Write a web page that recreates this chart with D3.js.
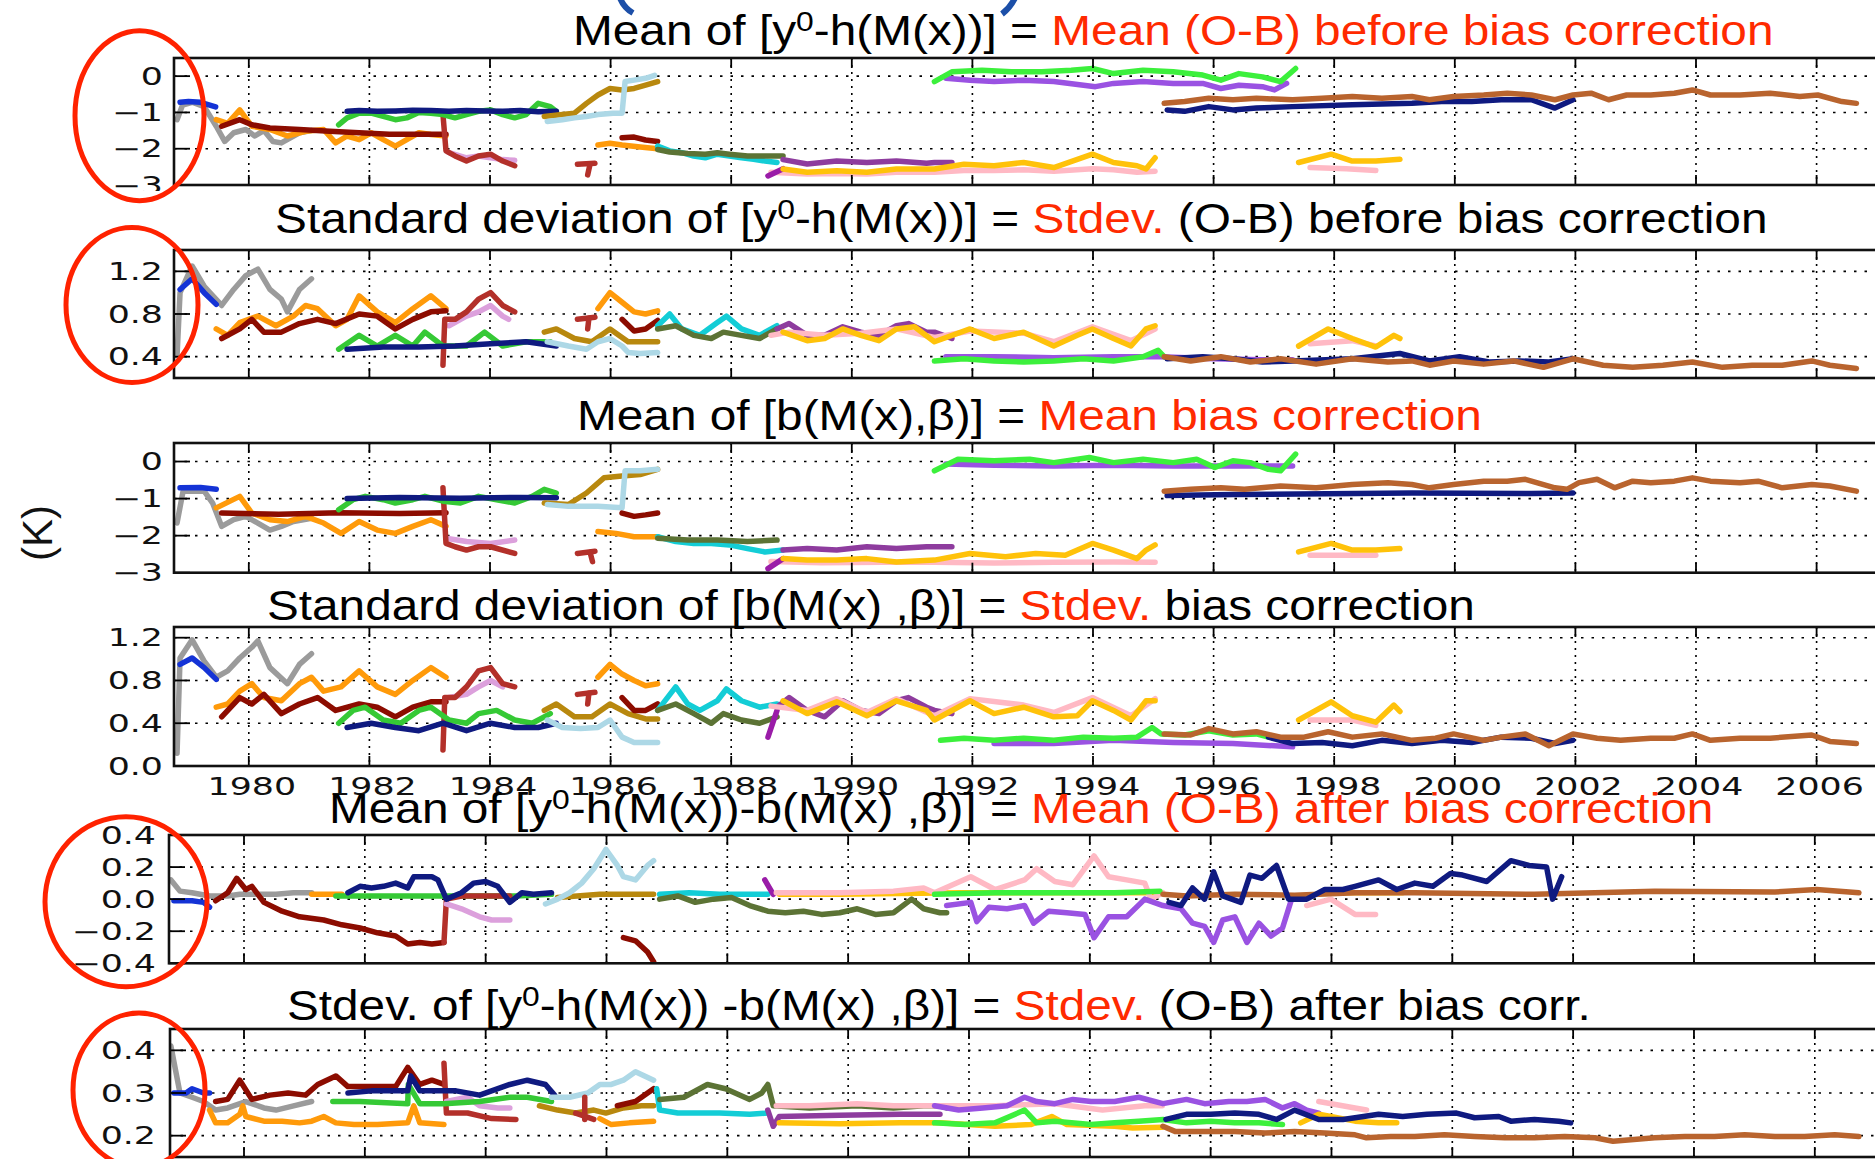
<!DOCTYPE html>
<html>
<head>
<meta charset="utf-8">
<script src="https://cdn.jsdelivr.net/npm/d3@7"></script>
<style>
  body { margin: 0; background: #fff; }
  svg { display: block; }
</style>
</head>
<body>
<div id="chart"></div>
<script>
// ---- data: each panel is a list of [colour, [[year, value], ...]] segments ----

const xTickYears = [1980, 1982, 1984, 1986, 1988, 1990, 1992, 1994, 1996, 1998, 2000, 2002, 2004, 2006];

const meanTicks = [0, -1, -2, -3];
const meanTickLabels = ["0", "\u22121", "\u22122", "\u22123"];
const sdBeforeTicks = [0.4, 0.8, 1.2];
const sdBeforeTickLabels = ["0.4", "0.8", "1.2"];
const sdBcTicks = [0.0, 0.4, 0.8, 1.2];
const sdBcTickLabels = ["0.0", "0.4", "0.8", "1.2"];
const meanAfterTicks = [-0.4, -0.2, 0.0, 0.2, 0.4];
const meanAfterTickLabels = ["\u22120.4", "\u22120.2", "0.0", "0.2", "0.4"];
const sdAfterTicks = [0.2, 0.3, 0.4];
const sdAfterTickLabels = ["0.2", "0.3", "0.4"];

const meanBefore = [
  ["gray", [[1978.81,-1.2],[1978.9,-0.8],[1979.06,-0.72],[1979.26,-0.84],[1979.46,-1.38],[1979.6,-1.8],[1979.75,-1.56],[1979.95,-1.47],[1980.1,-1.65],[1980.25,-1.5],[1980.4,-1.8],[1980.54,-1.84],[1980.69,-1.7],[1980.84,-1.56],[1981.04,-1.5]]],
  ["blue", [[1978.86,-0.72],[1979.0,-0.7],[1979.2,-0.72],[1979.45,-0.85]]],
  ["orange", [[1979.46,-1.2],[1979.65,-1.3],[1979.85,-0.93],[1980.05,-1.38],[1980.35,-1.47],[1980.64,-1.65],[1980.94,-1.52],[1981.24,-1.47],[1981.44,-1.84],[1981.63,-1.65],[1981.83,-1.75],[1982.03,-1.56],[1982.23,-1.75],[1982.43,-1.93],[1982.62,-1.75],[1982.82,-1.56],[1983.02,-1.61],[1983.27,-1.65]]],
  ["darkred", [[1979.55,-1.38],[1979.85,-1.2],[1980.05,-1.34],[1980.35,-1.43],[1980.84,-1.47],[1981.34,-1.52],[1981.83,-1.56],[1982.33,-1.6],[1982.82,-1.6],[1983.27,-1.6]]],
  ["plum", [[1983.32,-2.11],[1983.61,-2.25],[1983.81,-2.2],[1984.01,-2.25],[1984.21,-2.3],[1984.41,-2.32]]],
  ["brick", [[1983.22,-1.06],[1983.27,-2.06],[1983.42,-2.2],[1983.61,-2.34],[1983.81,-2.2],[1984.01,-2.15],[1984.21,-2.34],[1984.41,-2.47]]],
  ["brick", [[1985.45,-2.43],[1985.74,-2.4]]],
  ["brick", [[1985.66,-2.42],[1985.62,-2.72]]],
  ["green", [[1981.49,-1.34],[1981.63,-1.15],[1981.83,-1.02],[1982.03,-1.02],[1982.23,-1.11],[1982.43,-1.2],[1982.62,-1.15],[1982.82,-1.0],[1983.02,-1.02],[1983.22,-1.06],[1983.42,-1.15],[1983.61,-1.06],[1983.81,-0.97],[1984.01,-0.93],[1984.21,-1.06],[1984.41,-1.15],[1984.6,-1.06],[1984.8,-0.75],[1985.0,-0.84],[1985.1,-0.97]]],
  ["navy", [[1981.63,-0.97],[1981.83,-0.95],[1982.13,-0.97],[1982.43,-0.96],[1982.72,-0.94],[1983.02,-0.95],[1983.32,-0.97],[1983.61,-0.95],[1983.91,-0.96],[1984.21,-0.97],[1984.5,-0.95],[1984.8,-0.98],[1985.1,-0.97]]],
  ["goldenrod", [[1984.9,-1.11],[1985.2,-1.06],[1985.4,-1.02],[1985.6,-0.75],[1985.79,-0.52],[1985.99,-0.34],[1986.19,-0.38],[1986.39,-0.34],[1986.58,-0.25],[1986.78,-0.15]]],
  ["lightblue", [[1984.95,-1.25],[1985.2,-1.2],[1985.4,-1.15],[1985.6,-1.11],[1985.79,-1.06],[1986.04,-1.02],[1986.19,-1.02],[1986.24,-0.15],[1986.39,-0.11],[1986.58,-0.06],[1986.73,0.02]]],
  ["orange", [[1985.79,-1.9],[1985.99,-1.85],[1986.19,-1.9],[1986.49,-1.95],[1986.78,-2.0]]],
  ["darkred", [[1986.19,-1.7],[1986.39,-1.68],[1986.58,-1.76],[1986.78,-1.8]]],
  ["cyan", [[1986.78,-1.93],[1986.98,-2.06],[1987.18,-2.11],[1987.38,-2.2],[1987.57,-2.25],[1987.77,-2.15],[1987.97,-2.2],[1988.17,-2.25],[1988.37,-2.29],[1988.56,-2.34],[1988.76,-2.38]]],
  ["olive", [[1986.78,-2.02],[1986.98,-2.09],[1987.28,-2.13],[1987.57,-2.15],[1987.77,-2.11],[1987.97,-2.15],[1988.27,-2.2],[1988.56,-2.2],[1988.86,-2.2]]],
  ["pink", [[1988.66,-2.65],[1989.26,-2.7],[1989.75,-2.68],[1990.25,-2.7],[1990.74,-2.65],[1991.37,-2.65],[1991.86,-2.6],[1992.36,-2.6],[1992.85,-2.58],[1993.35,-2.62],[1993.99,-2.55],[1994.34,-2.58],[1994.73,-2.65],[1995.03,-2.62]]],
  ["magenta", [[1988.61,-2.75],[1988.86,-2.55]]],
  ["purple", [[1988.86,-2.3],[1989.26,-2.42],[1989.75,-2.34],[1990.25,-2.38],[1990.74,-2.34],[1991.24,-2.4],[1991.37,-2.38],[1991.66,-2.38]]],
  ["gold", [[1988.86,-2.56],[1989.26,-2.65],[1989.75,-2.61],[1990.25,-2.65],[1990.74,-2.56],[1991.37,-2.56],[1991.86,-2.43],[1992.36,-2.47],[1992.85,-2.38],[1993.35,-2.52],[1993.99,-2.15],[1994.34,-2.38],[1994.73,-2.47],[1994.88,-2.56],[1995.03,-2.25]]],
  ["medpurple", [[1991.56,-0.06],[1991.96,-0.11],[1992.36,-0.15],[1992.85,-0.11],[1993.35,-0.15],[1994.04,-0.29],[1994.34,-0.2],[1994.83,-0.15],[1995.33,-0.2],[1995.82,-0.2],[1996.12,-0.34],[1996.42,-0.25],[1996.81,-0.29],[1997.01,-0.38],[1997.21,-0.2]]],
  ["brightgreen", [[1991.37,-0.15],[1991.66,0.12],[1992.16,0.16],[1992.65,0.12],[1993.15,0.12],[1993.64,0.16],[1993.99,0.21],[1994.34,0.07],[1994.83,0.16],[1995.33,0.12],[1995.82,0.03],[1996.12,-0.11],[1996.42,0.07],[1996.81,-0.02],[1997.11,-0.15],[1997.36,0.21]]],
  ["navy", [[1995.23,-0.93],[1995.52,-0.97],[1995.92,-0.84],[1996.32,-0.93],[1996.71,-0.88],[1997.31,-0.84],[1998.3,-0.79],[1999.29,-0.75],[1999.78,-0.7],[2000.28,-0.7],[2000.77,-0.65],[2001.27,-0.65],[2001.66,-0.88],[2001.96,-0.65]]],
  ["brown", [[1995.18,-0.75],[1995.52,-0.7],[1995.92,-0.61],[1996.32,-0.65],[1996.71,-0.61],[1997.31,-0.65],[1997.8,-0.61],[1998.3,-0.56],[1998.79,-0.61],[1999.29,-0.56],[1999.58,-0.65],[1999.98,-0.56],[2000.48,-0.52],[2000.87,-0.47],[2001.27,-0.52],[2001.66,-0.65],[2001.96,-0.52],[2002.26,-0.47],[2002.55,-0.65],[2002.85,-0.52],[2003.25,-0.52],[2003.64,-0.47],[2003.94,-0.38],[2004.24,-0.52],[2004.73,-0.52],[2005.23,-0.47],[2005.72,-0.56],[2006.02,-0.52],[2006.42,-0.7],[2006.66,-0.75]]],
  ["pink", [[1997.6,-2.52],[1998.2,-2.55],[1998.69,-2.6]]],
  ["gold", [[1997.41,-2.38],[1997.95,-2.15],[1998.3,-2.34],[1998.69,-2.34],[1999.09,-2.29]]]
];

const sdBefore = [
  ["gray", [[1978.81,0.41],[1978.86,1.0],[1979.06,1.25],[1979.26,1.06],[1979.55,0.88],[1979.75,1.03],[1979.95,1.16],[1980.15,1.22],[1980.35,1.03],[1980.54,0.94],[1980.64,0.82],[1980.84,1.03],[1981.04,1.13]]],
  ["blue", [[1978.86,1.03],[1979.06,1.13],[1979.26,1.0],[1979.46,0.89]]],
  ["orange", [[1979.46,0.66],[1979.65,0.6],[1979.85,0.72],[1980.15,0.78],[1980.45,0.69],[1980.74,0.78],[1980.94,0.88],[1981.14,0.85],[1981.44,0.69],[1981.63,0.75],[1981.83,0.97],[1982.13,0.82],[1982.43,0.72],[1982.72,0.85],[1983.02,0.97],[1983.27,0.85]]],
  ["darkred", [[1979.55,0.57],[1979.85,0.66],[1980.05,0.75],[1980.25,0.63],[1980.54,0.63],[1980.84,0.71],[1981.14,0.75],[1981.44,0.71],[1981.83,0.8],[1982.13,0.78],[1982.43,0.66],[1982.72,0.75],[1983.02,0.82],[1983.27,0.83]]],
  ["plum", [[1983.32,0.69],[1983.61,0.78],[1983.81,0.82],[1984.01,0.88],[1984.21,0.78],[1984.31,0.75]]],
  ["brick", [[1983.22,0.32],[1983.25,0.75],[1983.42,0.75],[1983.61,0.82],[1983.81,0.94],[1984.01,1.0],[1984.21,0.88],[1984.41,0.82]]],
  ["brick", [[1985.45,0.75],[1985.74,0.77]]],
  ["brick", [[1985.64,0.76],[1985.62,0.66]]],
  ["green", [[1981.49,0.47],[1981.83,0.6],[1982.13,0.5],[1982.43,0.6],[1982.72,0.5],[1982.92,0.63],[1983.22,0.5],[1983.61,0.5],[1983.91,0.63],[1984.21,0.5],[1984.6,0.54],[1985.0,0.54]]],
  ["navy", [[1981.63,0.47],[1982.23,0.49],[1982.82,0.49],[1983.42,0.5],[1984.01,0.52],[1984.6,0.54],[1985.1,0.5]]],
  ["goldenrod", [[1984.9,0.63],[1985.1,0.66],[1985.4,0.57],[1985.69,0.54],[1985.99,0.66],[1986.29,0.54],[1986.58,0.54],[1986.78,0.54]]],
  ["lightblue", [[1984.95,0.54],[1985.3,0.5],[1985.6,0.47],[1985.79,0.54],[1985.99,0.57],[1986.19,0.5],[1986.29,0.44],[1986.49,0.43],[1986.78,0.44]]],
  ["orange", [[1985.79,0.85],[1985.99,1.0],[1986.19,0.91],[1986.39,0.82],[1986.58,0.8],[1986.78,0.83]]],
  ["darkred", [[1986.19,0.75],[1986.39,0.64],[1986.58,0.66],[1986.78,0.74]]],
  ["cyan", [[1986.78,0.69],[1986.98,0.8],[1987.18,0.66],[1987.48,0.6],[1987.77,0.72],[1987.92,0.78],[1988.17,0.66],[1988.47,0.6],[1988.76,0.69]]],
  ["olive", [[1986.78,0.66],[1987.08,0.69],[1987.38,0.6],[1987.67,0.57],[1987.87,0.63],[1988.17,0.6],[1988.47,0.57],[1988.76,0.66]]],
  ["purple", [[1988.76,0.66],[1988.96,0.71],[1989.26,0.6],[1989.55,0.6],[1989.85,0.68],[1990.15,0.63],[1990.45,0.6],[1990.74,0.69],[1990.94,0.71],[1991.24,0.63],[1991.37,0.63],[1991.66,0.57]]],
  ["pink", [[1988.66,0.6],[1988.96,0.63],[1989.55,0.6],[1990.15,0.62],[1990.74,0.66],[1991.37,0.58],[1991.96,0.64],[1992.85,0.62],[1993.35,0.54],[1993.99,0.68],[1994.63,0.55],[1995.03,0.66]]],
  ["gold", [[1988.86,0.63],[1989.26,0.55],[1989.55,0.57],[1989.85,0.66],[1990.15,0.6],[1990.45,0.55],[1990.74,0.66],[1991.04,0.68],[1991.37,0.54],[1991.96,0.66],[1992.36,0.57],[1992.85,0.63],[1993.35,0.5],[1993.74,0.6],[1993.99,0.66],[1994.34,0.57],[1994.63,0.5],[1994.88,0.66],[1995.03,0.69]]],
  ["medpurple", [[1991.56,0.4],[1992.36,0.4],[1993.35,0.39],[1994.34,0.4],[1995.13,0.4],[1996.0,0.38],[1996.8,0.37],[1997.31,0.37]]],
  ["brightgreen", [[1991.37,0.36],[1991.86,0.38],[1992.36,0.36],[1992.85,0.35],[1993.35,0.36],[1993.84,0.38],[1994.34,0.36],[1994.83,0.4],[1995.08,0.46],[1995.18,0.4]]],
  ["navy", [[1995.23,0.38],[1995.82,0.4],[1996.32,0.38],[1996.81,0.35],[1997.31,0.36],[1998.3,0.38],[1999.09,0.43],[1999.58,0.36],[2000.08,0.4],[2000.57,0.35],[2001.07,0.36],[2001.56,0.35],[2001.96,0.38]]],
  ["brown", [[1995.18,0.4],[1995.62,0.36],[1996.12,0.4],[1996.61,0.35],[1997.11,0.38],[1997.7,0.33],[1998.3,0.38],[1998.89,0.35],[1999.29,0.36],[1999.58,0.32],[1999.98,0.36],[2000.48,0.33],[2000.97,0.36],[2001.47,0.3],[2001.96,0.38],[2002.46,0.32],[2002.95,0.3],[2003.45,0.32],[2003.94,0.35],[2004.44,0.3],[2004.93,0.32],[2005.43,0.32],[2005.92,0.36],[2006.22,0.32],[2006.66,0.29]]],
  ["pink", [[1997.6,0.52],[1998.3,0.55],[1998.69,0.5]]],
  ["gold", [[1997.41,0.5],[1997.9,0.66],[1998.3,0.57],[1998.69,0.49],[1998.99,0.6],[1999.09,0.57]]]
];

const meanBc = [
  ["gray", [[1978.81,-1.66],[1978.91,-0.8],[1979.26,-0.8],[1979.4,-1.12],[1979.55,-1.75],[1979.75,-1.57],[1979.95,-1.48],[1980.15,-1.66],[1980.35,-1.85],[1980.54,-1.75],[1980.74,-1.62],[1981.04,-1.53]]],
  ["blue", [[1978.86,-0.71],[1979.2,-0.7],[1979.46,-0.75]]],
  ["orange", [[1979.46,-1.25],[1979.85,-0.94],[1980.05,-1.39],[1980.35,-1.57],[1980.64,-1.62],[1980.94,-1.48],[1981.24,-1.66],[1981.53,-1.94],[1981.83,-1.62],[1982.13,-1.85],[1982.43,-1.94],[1982.72,-1.75],[1983.02,-1.57],[1983.27,-1.75]]],
  ["darkred", [[1979.55,-1.39],[1980.5,-1.42],[1981.5,-1.38],[1982.5,-1.4],[1983.27,-1.38]]],
  ["plum", [[1983.27,-2.07],[1983.61,-2.16],[1984.01,-2.21],[1984.41,-2.12]]],
  ["brick", [[1983.22,-0.71],[1983.27,-2.21],[1983.42,-2.3],[1983.61,-2.39],[1983.81,-2.3],[1984.01,-2.3],[1984.41,-2.48]]],
  ["brick", [[1985.45,-2.48],[1985.74,-2.42]]],
  ["brick", [[1985.66,-2.45],[1985.7,-2.7]]],
  ["green", [[1981.49,-1.3],[1981.73,-1.03],[1981.93,-0.94],[1982.23,-1.03],[1982.43,-1.12],[1982.72,-1.03],[1982.92,-0.94],[1983.22,-1.07],[1983.51,-1.12],[1983.81,-0.94],[1984.11,-1.03],[1984.41,-1.12],[1984.7,-0.94],[1984.9,-0.75],[1985.1,-0.85]]],
  ["navy", [[1981.63,-1.0],[1982.5,-0.97],[1983.5,-0.99],[1984.5,-0.97],[1985.1,-0.98]]],
  ["goldenrod", [[1984.9,-1.12],[1985.3,-1.16],[1985.6,-0.85],[1985.89,-0.44],[1986.19,-0.39],[1986.49,-0.35],[1986.78,-0.21]]],
  ["lightblue", [[1984.95,-1.16],[1985.3,-1.21],[1985.6,-1.21],[1985.79,-1.21],[1986.19,-1.25],[1986.24,-0.25],[1986.49,-0.25],[1986.78,-0.21]]],
  ["orange", [[1985.79,-1.89],[1986.09,-1.94],[1986.39,-2.03],[1986.78,-2.03]]],
  ["darkred", [[1986.19,-1.39],[1986.39,-1.48],[1986.58,-1.44],[1986.78,-1.39]]],
  ["cyan", [[1986.78,-2.03],[1987.08,-2.16],[1987.38,-2.21],[1987.67,-2.21],[1987.97,-2.25],[1988.27,-2.35],[1988.56,-2.44],[1988.86,-2.39]]],
  ["olive", [[1986.78,-2.07],[1987.28,-2.12],[1987.77,-2.12],[1988.27,-2.16],[1988.76,-2.12]]],
  ["pink", [[1988.66,-2.7],[1989.5,-2.73],[1990.5,-2.72],[1991.37,-2.72],[1992.36,-2.74],[1993.35,-2.72],[1994.34,-2.71],[1995.03,-2.72]]],
  ["magenta", [[1988.61,-2.89],[1988.86,-2.62]]],
  ["purple", [[1988.86,-2.39],[1989.26,-2.35],[1989.75,-2.39],[1990.25,-2.3],[1990.74,-2.35],[1991.24,-2.3],[1991.37,-2.3],[1991.66,-2.3]]],
  ["gold", [[1988.86,-2.62],[1989.26,-2.66],[1989.75,-2.66],[1990.25,-2.62],[1990.74,-2.71],[1991.37,-2.66],[1991.96,-2.48],[1992.55,-2.57],[1993.05,-2.48],[1993.54,-2.53],[1993.99,-2.21],[1994.34,-2.39],[1994.73,-2.62],[1994.88,-2.39],[1995.03,-2.25]]],
  ["medpurple", [[1991.56,-0.07],[1992.36,-0.1],[1993.35,-0.12],[1994.34,-0.1],[1995.33,-0.12],[1996.32,-0.12],[1997.31,-0.12]]],
  ["brightgreen", [[1991.37,-0.25],[1991.76,0.06],[1992.36,0.02],[1992.95,0.06],[1993.35,-0.03],[1993.94,0.11],[1994.34,-0.03],[1994.83,0.06],[1995.33,-0.03],[1995.72,0.06],[1996.02,-0.16],[1996.32,0.02],[1996.61,-0.03],[1996.91,-0.21],[1997.11,-0.25],[1997.36,0.2]]],
  ["navy", [[1995.23,-0.92],[1996.32,-0.89],[1999.29,-0.85],[2001.27,-0.86],[2001.96,-0.85]]],
  ["brown", [[1995.18,-0.8],[1995.62,-0.75],[1996.12,-0.71],[1996.51,-0.75],[1997.11,-0.66],[1997.7,-0.71],[1998.3,-0.62],[1998.89,-0.57],[1999.29,-0.62],[1999.58,-0.71],[1999.98,-0.62],[2000.48,-0.53],[2000.87,-0.53],[2001.17,-0.48],[2001.66,-0.71],[2001.86,-0.75],[2002.06,-0.57],[2002.36,-0.48],[2002.65,-0.71],[2002.95,-0.53],[2003.25,-0.57],[2003.64,-0.53],[2003.94,-0.44],[2004.24,-0.53],[2004.73,-0.57],[2005.03,-0.53],[2005.43,-0.71],[2005.92,-0.62],[2006.22,-0.66],[2006.66,-0.8]]],
  ["pink", [[1997.6,-2.53],[1998.69,-2.53]]],
  ["gold", [[1997.41,-2.44],[1997.95,-2.21],[1998.3,-2.39],[1998.69,-2.39],[1999.09,-2.35]]]
];

const sdBc = [
  ["gray", [[1978.81,0.12],[1978.86,1.01],[1979.06,1.18],[1979.26,0.98],[1979.46,0.83],[1979.65,0.89],[1979.85,1.01],[1980.05,1.11],[1980.15,1.17],[1980.35,0.92],[1980.64,0.77],[1980.84,0.95],[1981.04,1.05]]],
  ["blue", [[1978.86,0.95],[1979.06,1.01],[1979.26,0.92],[1979.46,0.81]]],
  ["orange", [[1979.46,0.55],[1979.65,0.58],[1979.85,0.7],[1980.05,0.77],[1980.25,0.64],[1980.54,0.61],[1980.84,0.77],[1981.04,0.83],[1981.24,0.7],[1981.53,0.74],[1981.83,0.89],[1982.13,0.74],[1982.43,0.67],[1982.72,0.8],[1983.02,0.92],[1983.27,0.83]]],
  ["darkred", [[1979.55,0.46],[1979.85,0.64],[1980.05,0.58],[1980.25,0.67],[1980.54,0.49],[1980.84,0.58],[1981.14,0.64],[1981.44,0.52],[1981.83,0.58],[1982.13,0.55],[1982.43,0.46],[1982.72,0.55],[1983.02,0.6],[1983.27,0.6]]],
  ["plum", [[1983.32,0.64],[1983.61,0.67],[1983.81,0.74],[1984.01,0.8],[1984.21,0.74]]],
  ["brick", [[1983.22,0.15],[1983.25,0.64],[1983.42,0.64],[1983.61,0.74],[1983.81,0.89],[1984.01,0.92],[1984.21,0.77],[1984.41,0.74]]],
  ["brick", [[1985.45,0.67],[1985.74,0.69]]],
  ["brick", [[1985.64,0.68],[1985.62,0.58]]],
  ["green", [[1981.49,0.4],[1981.73,0.52],[1981.93,0.55],[1982.23,0.43],[1982.52,0.4],[1982.82,0.52],[1983.02,0.55],[1983.32,0.43],[1983.61,0.4],[1983.81,0.49],[1984.11,0.52],[1984.41,0.43],[1984.7,0.4],[1985.0,0.49]]],
  ["navy", [[1981.63,0.36],[1982.03,0.4],[1982.43,0.36],[1982.82,0.33],[1983.22,0.4],[1983.61,0.33],[1984.01,0.4],[1984.41,0.36],[1984.8,0.36],[1985.1,0.4]]],
  ["goldenrod", [[1984.9,0.52],[1985.1,0.58],[1985.4,0.46],[1985.69,0.46],[1985.99,0.58],[1986.29,0.49],[1986.58,0.44],[1986.78,0.44]]],
  ["lightblue", [[1984.95,0.43],[1985.2,0.36],[1985.5,0.35],[1985.79,0.36],[1985.99,0.43],[1986.19,0.27],[1986.39,0.22],[1986.78,0.22]]],
  ["orange", [[1985.79,0.83],[1985.99,0.95],[1986.19,0.86],[1986.39,0.8],[1986.58,0.75],[1986.78,0.77]]],
  ["darkred", [[1986.19,0.64],[1986.39,0.52],[1986.58,0.52],[1986.78,0.58]]],
  ["cyan", [[1986.78,0.52],[1987.08,0.74],[1987.28,0.58],[1987.48,0.52],[1987.77,0.61],[1987.92,0.72],[1988.17,0.61],[1988.47,0.55],[1988.76,0.58]]],
  ["olive", [[1986.78,0.52],[1987.08,0.58],[1987.38,0.49],[1987.67,0.4],[1987.87,0.49],[1988.17,0.43],[1988.47,0.4],[1988.76,0.46]]],
  ["magenta", [[1988.61,0.27],[1988.76,0.52]]],
  ["purple", [[1988.76,0.55],[1988.96,0.64],[1989.26,0.52],[1989.55,0.46],[1989.85,0.61],[1990.15,0.52],[1990.45,0.49],[1990.74,0.61],[1990.94,0.64],[1991.24,0.55],[1991.37,0.52],[1991.66,0.49]]],
  ["pink", [[1988.66,0.56],[1989.26,0.52],[1989.75,0.63],[1990.25,0.5],[1990.74,0.63],[1991.37,0.47],[1991.96,0.63],[1992.85,0.57],[1993.35,0.5],[1993.99,0.64],[1994.63,0.47],[1995.03,0.63]]],
  ["gold", [[1988.86,0.61],[1989.26,0.49],[1989.75,0.6],[1990.25,0.47],[1990.74,0.61],[1991.24,0.52],[1991.37,0.43],[1991.96,0.61],[1992.36,0.49],[1992.85,0.55],[1993.35,0.46],[1993.74,0.47],[1993.99,0.61],[1994.34,0.52],[1994.63,0.43],[1994.88,0.61],[1995.03,0.61]]],
  ["medpurple", [[1992.36,0.21],[1993.35,0.21],[1994.34,0.24],[1995.33,0.22],[1996.32,0.21],[1997.31,0.18]]],
  ["brightgreen", [[1991.47,0.24],[1991.86,0.26],[1992.36,0.24],[1992.85,0.26],[1993.35,0.24],[1993.84,0.27],[1994.34,0.26],[1994.73,0.27],[1994.98,0.36],[1995.13,0.3],[1995.52,0.29],[1995.92,0.33],[1996.32,0.29],[1996.71,0.3],[1996.91,0.27],[1997.11,0.26]]],
  ["navy", [[1996.91,0.27],[1997.31,0.21],[1997.8,0.22],[1998.3,0.19],[1998.79,0.24],[1999.29,0.21],[1999.78,0.24],[2000.28,0.22],[2000.77,0.27],[2001.27,0.26],[2001.66,0.21],[2001.96,0.24]]],
  ["brown", [[1995.18,0.3],[1995.62,0.29],[1995.92,0.35],[1996.32,0.3],[1996.71,0.32],[1997.11,0.27],[1997.5,0.27],[1997.9,0.32],[1998.3,0.27],[1998.79,0.3],[1999.29,0.24],[1999.68,0.26],[1999.98,0.3],[2000.48,0.24],[2000.77,0.27],[2001.17,0.3],[2001.56,0.19],[2001.96,0.3],[2002.36,0.26],[2002.75,0.24],[2003.25,0.26],[2003.64,0.26],[2003.94,0.3],[2004.24,0.24],[2004.73,0.26],[2005.23,0.26],[2005.92,0.29],[2006.22,0.23],[2006.66,0.21]]],
  ["pink", [[1997.6,0.43],[1998.3,0.43],[1998.69,0.38]]],
  ["gold", [[1997.41,0.43],[1997.95,0.6],[1998.3,0.47],[1998.69,0.41],[1998.99,0.57],[1999.09,0.51]]]
];

const meanAfter = [
  ["gray", [[1978.79,0.12],[1978.94,0.05],[1979.14,0.04],[1979.43,0.02],[1979.73,0.02],[1979.93,0.03],[1980.23,0.03],[1980.53,0.03],[1980.82,0.04],[1981.12,0.04]]],
  ["blue", [[1978.84,-0.01],[1979.14,-0.01],[1979.33,-0.02],[1979.43,-0.05]]],
  ["orange", [[1981.12,0.03],[1981.62,0.03]]],
  ["green", [[1981.52,0.02],[1982.5,0.02],[1983.5,0.02],[1984.5,0.02],[1985.09,0.03]]],
  ["darkred", [[1979.53,-0.01],[1979.73,0.04],[1979.88,0.13],[1980.03,0.06],[1980.13,0.08],[1980.33,-0.02],[1980.63,-0.075],[1980.92,-0.11],[1981.32,-0.13],[1981.62,-0.16],[1981.92,-0.18],[1982.21,-0.21],[1982.51,-0.23],[1982.71,-0.28],[1982.91,-0.27],[1983.11,-0.28],[1983.31,-0.27]]],
  ["brick", [[1983.31,-0.27],[1983.35,0.0],[1983.6,0.02],[1984.0,0.02],[1984.4,0.02]]],
  ["plum", [[1983.35,-0.03],[1983.6,-0.06],[1983.9,-0.11],[1984.1,-0.13],[1984.4,-0.13]]],
  ["navy", [[1981.72,0.04],[1981.92,0.08],[1982.11,0.07],[1982.31,0.08],[1982.51,0.1],[1982.71,0.07],[1982.81,0.14],[1983.11,0.14],[1983.21,0.12],[1983.35,0.0],[1983.6,0.04],[1983.8,0.1],[1984.0,0.11],[1984.2,0.08],[1984.4,-0.02],[1984.6,0.04],[1984.79,0.03],[1985.09,0.04]]],
  ["goldenrod", [[1985.19,0.01],[1985.89,0.03],[1986.78,0.03]]],
  ["lightblue", [[1984.99,-0.03],[1985.19,0.0],[1985.39,0.04],[1985.59,0.1],[1985.79,0.19],[1985.99,0.31],[1986.18,0.21],[1986.28,0.14],[1986.48,0.12],[1986.68,0.21],[1986.78,0.24]]],
  ["darkred", [[1986.28,-0.24],[1986.48,-0.26],[1986.68,-0.33],[1986.78,-0.39]]],
  ["cyan", [[1986.88,0.03],[1987.37,0.04],[1987.87,0.03],[1988.37,0.03],[1988.67,0.03]]],
  ["olive", [[1986.88,0.0],[1987.18,0.02],[1987.47,-0.02],[1987.77,0.0],[1988.07,0.01],[1988.37,-0.04],[1988.67,-0.075],[1988.96,-0.085],[1989.26,-0.075],[1989.56,-0.095],[1989.86,-0.085],[1990.15,-0.06],[1990.45,-0.095],[1990.75,-0.085],[1991.05,0.0],[1991.25,-0.06],[1991.52,-0.085],[1991.63,-0.085]]],
  ["magenta", [[1988.62,0.12],[1988.76,0.03]]],
  ["gold", [[1988.86,0.03],[1989.86,0.03],[1990.86,0.035],[1991.86,0.04],[1992.86,0.04],[1993.86,0.04],[1994.86,0.04],[1995.16,0.04]]],
  ["pink", [[1988.81,0.04],[1989.86,0.04],[1990.75,0.05],[1991.25,0.07],[1991.43,0.04],[1992.03,0.14],[1992.43,0.06],[1992.92,0.12],[1993.12,0.19],[1993.42,0.11],[1993.72,0.09],[1994.07,0.27],[1994.31,0.14],[1994.61,0.12],[1994.91,0.1],[1995.01,0.0],[1995.21,0.04]]],
  ["medpurple", [[1991.63,-0.04],[1992.03,-0.02],[1992.13,-0.14],[1992.33,-0.05],[1992.63,-0.06],[1992.92,-0.04],[1993.07,-0.15],[1993.32,-0.075],[1993.62,-0.085],[1993.92,-0.095],[1994.07,-0.24],[1994.31,-0.11],[1994.61,-0.11],[1994.91,0.0],[1995.21,-0.04],[1995.51,-0.06],[1995.7,-0.15],[1995.9,-0.17],[1996.05,-0.27],[1996.2,-0.13],[1996.4,-0.11],[1996.6,-0.27],[1996.8,-0.15],[1997.0,-0.23],[1997.19,-0.18],[1997.34,0.0]]],
  ["brightgreen", [[1991.43,0.03],[1992.43,0.04],[1993.42,0.04],[1994.41,0.04],[1995.16,0.05]]],
  ["pink", [[1997.59,-0.04],[1997.99,0.0],[1998.39,-0.095],[1998.73,-0.095]]],
  ["gold", [[1997.99,0.04],[1999.18,0.04]]],
  ["brown", [[1995.21,0.03],[1995.6,0.02],[1996.4,0.03],[1997.39,0.025],[1998.39,0.04],[1999.38,0.04],[2001.36,0.03],[2003.35,0.05],[2005.34,0.045],[2006.03,0.06],[2006.73,0.04]]],
  ["navy", [[1995.31,-0.02],[1995.51,-0.04],[1995.7,0.07],[1995.9,0.0],[1996.05,0.17],[1996.2,0.02],[1996.5,-0.02],[1996.65,0.15],[1996.85,0.13],[1997.09,0.21],[1997.29,0.0],[1997.59,0.0],[1997.89,0.06],[1998.19,0.06],[1998.39,0.08],[1998.78,0.12],[1999.08,0.06],[1999.38,0.1],[1999.68,0.08],[1999.97,0.16],[2000.17,0.15],[2000.57,0.11],[2000.97,0.24],[2001.27,0.21],[2001.56,0.2],[2001.66,0.0],[2001.81,0.14]]]
];

const sdAfter = [
  ["gray", [[1978.79,0.41],[1978.94,0.3],[1979.14,0.29],[1979.33,0.28],[1979.53,0.26],[1979.73,0.265],[1980.03,0.28],[1980.33,0.265],[1980.53,0.26],[1980.82,0.27],[1981.12,0.28]]],
  ["blue", [[1978.84,0.3],[1979.04,0.3],[1979.14,0.31],[1979.33,0.3],[1979.43,0.3]]],
  ["orange", [[1979.43,0.26],[1979.53,0.23],[1979.73,0.23],[1979.93,0.25],[1979.98,0.27],[1980.03,0.245],[1980.33,0.234],[1980.63,0.234],[1980.92,0.23],[1981.12,0.234],[1981.32,0.245],[1981.52,0.23],[1981.82,0.226],[1982.21,0.226],[1982.71,0.23],[1982.81,0.27],[1982.91,0.23],[1983.31,0.226]]],
  ["darkred", [[1979.53,0.28],[1979.73,0.285],[1979.93,0.33],[1980.13,0.285],[1980.43,0.295],[1980.73,0.3],[1981.02,0.295],[1981.22,0.32],[1981.52,0.34],[1981.72,0.315],[1982.11,0.315],[1982.51,0.315],[1982.71,0.36],[1982.91,0.32],[1983.11,0.33],[1983.31,0.32]]],
  ["brick", [[1983.31,0.37],[1983.35,0.253],[1983.7,0.253],[1984.1,0.24],[1984.5,0.238]]],
  ["plum", [[1983.35,0.28],[1983.7,0.29],[1983.9,0.27],[1984.2,0.265],[1984.4,0.265]]],
  ["green", [[1981.47,0.28],[1981.92,0.28],[1982.71,0.275],[1982.72,0.32],[1982.91,0.275],[1983.31,0.275],[1983.9,0.28],[1984.4,0.29],[1984.69,0.29],[1985.09,0.28]]],
  ["navy", [[1981.72,0.3],[1982.11,0.305],[1982.71,0.305],[1982.76,0.34],[1982.91,0.305],[1983.51,0.305],[1983.9,0.295],[1984.4,0.32],[1984.69,0.33],[1984.99,0.32],[1985.14,0.295]]],
  ["goldenrod", [[1984.89,0.27],[1985.19,0.26],[1985.49,0.253],[1985.79,0.26],[1985.99,0.253],[1986.28,0.265],[1986.58,0.27],[1986.78,0.27]]],
  ["lightblue", [[1985.09,0.29],[1985.39,0.29],[1985.69,0.3],[1985.89,0.32],[1986.08,0.32],[1986.28,0.33],[1986.48,0.35],[1986.63,0.34],[1986.78,0.33]]],
  ["orange", [[1985.89,0.24],[1986.08,0.226],[1986.38,0.23],[1986.78,0.234]]],
  ["darkred", [[1986.18,0.27],[1986.48,0.28],[1986.68,0.3],[1986.78,0.31]]],
  ["brick", [[1985.49,0.253],[1985.79,0.238]]],
  ["brick", [[1985.64,0.29],[1985.64,0.238]]],
  ["cyan", [[1986.83,0.31],[1986.88,0.26],[1987.18,0.253],[1987.87,0.253],[1988.37,0.25],[1988.67,0.253]]],
  ["olive", [[1986.88,0.285],[1987.28,0.29],[1987.67,0.32],[1987.97,0.31],[1988.37,0.285],[1988.57,0.3],[1988.67,0.32],[1988.76,0.27],[1989.36,0.265],[1990.15,0.27],[1990.75,0.265],[1991.25,0.27],[1991.52,0.27],[1991.63,0.265]]],
  ["pink", [[1988.81,0.27],[1989.36,0.27],[1990.15,0.275],[1990.75,0.27],[1991.52,0.27],[1992.43,0.27],[1993.42,0.275],[1994.21,0.26],[1994.91,0.27],[1995.2,0.27]]],
  ["purple", [[1988.67,0.26],[1988.76,0.222],[1988.86,0.245],[1989.86,0.248],[1990.86,0.25],[1991.52,0.25]]],
  ["gold", [[1988.86,0.23],[1989.86,0.228],[1990.86,0.23],[1991.52,0.23],[1992.43,0.222],[1993.02,0.226],[1993.37,0.245],[1993.62,0.226],[1994.41,0.222],[1994.71,0.218],[1995.2,0.22]]],
  ["medpurple", [[1991.43,0.27],[1991.83,0.26],[1992.23,0.265],[1992.63,0.27],[1992.92,0.29],[1993.12,0.28],[1993.42,0.275],[1993.72,0.285],[1994.02,0.28],[1994.41,0.28],[1994.81,0.29],[1995.21,0.275],[1995.6,0.285],[1995.9,0.275],[1996.3,0.28],[1996.6,0.28],[1996.9,0.285],[1997.19,0.265],[1997.39,0.275],[1997.59,0.26],[1997.79,0.253]]],
  ["brightgreen", [[1991.43,0.23],[1991.93,0.226],[1992.43,0.23],[1992.92,0.26],[1993.12,0.23],[1993.42,0.234],[1994.02,0.226],[1994.41,0.23],[1994.81,0.234],[1995.21,0.238],[1995.6,0.23],[1996.0,0.234],[1996.4,0.23],[1996.8,0.23],[1997.19,0.226]]],
  ["pink", [[1997.79,0.28],[1998.39,0.265],[1998.58,0.26]]],
  ["gold", [[1997.49,0.23],[1997.79,0.25],[1997.99,0.245],[1998.39,0.234],[1998.78,0.23],[1999.08,0.23]]],
  ["navy", [[1995.26,0.238],[1995.6,0.25],[1996.0,0.25],[1996.4,0.253],[1996.8,0.25],[1997.09,0.238],[1997.39,0.26],[1997.79,0.238],[1998.19,0.238],[1998.39,0.242],[1998.78,0.25],[1999.18,0.245],[1999.58,0.25],[2000.07,0.253],[2000.37,0.242],[2000.77,0.245],[2000.97,0.234],[2001.36,0.238],[2001.76,0.234],[2001.96,0.23]]],
  ["brown", [[1995.21,0.222],[1995.41,0.21],[1995.9,0.21],[1996.4,0.21],[1996.9,0.206],[1997.39,0.21],[1997.89,0.206],[1998.39,0.202],[1998.58,0.195],[1998.98,0.198],[1999.38,0.198],[1999.87,0.202],[2000.37,0.198],[2000.87,0.195],[2001.36,0.195],[2001.86,0.198],[2002.36,0.195],[2002.66,0.187],[2003.35,0.195],[2003.85,0.198],[2004.34,0.198],[2004.84,0.202],[2005.34,0.198],[2005.83,0.198],[2006.33,0.202],[2006.73,0.198]]]
];

const colors = {
  blue: "#1433d6", gray: "#9b9b9b", orange: "#ff9a0a", darkred: "#8c0c00",
  brick: "#b3302a", plum: "#dca0dc", green: "#35c935", navy: "#0f1a80",
  goldenrod: "#b8880e", lightblue: "#add8e6", cyan: "#13cdd6", olive: "#5c7335",
  magenta: "#9a1ca8", purple: "#8e3c9e", gold: "#ffc20a", pink: "#ffb9c4",
  brightgreen: "#3cf03c", medpurple: "#9a52e2", brown: "#b9642e"
};

const titles = [
  { x0: 573, x1: 1774, y: 45, parts: [["Mean of [y", "k"], ["0", "s"], ["-h(M(x))] = ", "k"], ["Mean (O-B) before bias correction", "r"]] },
  { x0: 275, x1: 1768, y: 233, parts: [["Standard deviation of [y", "k"], ["0", "s"], ["-h(M(x))] = ", "k"], ["Stdev.", "r"], [" (O-B) before bias correction", "k"]] },
  { x0: 577, x1: 1482, y: 430, parts: [["Mean of [b(M(x),\u03b2)] = ", "k"], ["Mean bias correction", "r"]] },
  { x0: 267, x1: 1475, y: 620, parts: [["Standard deviation of [b(M(x) ,\u03b2)] = ", "k"], ["Stdev.", "r"], [" bias correction", "k"]] },
  { x0: 329, x1: 1714, y: 823, parts: [["Mean of [y", "k"], ["0", "s"], ["-h(M(x))-b(M(x) ,\u03b2)] = ", "k"], ["Mean (O-B) after bias correction", "r"]] },
  { x0: 287, x1: 1591, y: 1020, parts: [["Stdev. of [y", "k"], ["0", "s"], ["-h(M(x)) -b(M(x) ,\u03b2)] = ", "k"], ["Stdev.", "r"], [" (O-B) after bias corr.", "k"]] }
];

// ---- layout ----
const W = 1875, H = 1159;
const RED = "#ff2a00";

const xUpper = d3.scaleLinear().domain([1980, 2006]).range([248.8, 1816.6]);
const xLower = d3.scaleLinear().domain([1980, 2006]).range([244, 1814.8]);

const panels = [
  { data: meanBefore, x: xUpper, left: 174, top: 58, bottom: 185, domain: [-3, 0.5], ticks: meanTicks, labels: meanTickLabels, labelX: 163 },
  { data: sdBefore, x: xUpper, left: 174, top: 250, bottom: 378, domain: [0.2, 1.4], ticks: sdBeforeTicks, labels: sdBeforeTickLabels, labelX: 163 },
  { data: meanBc, x: xUpper, left: 174, top: 443, bottom: 572.7, domain: [-3, 0.5], ticks: meanTicks, labels: meanTickLabels, labelX: 163 },
  { data: sdBc, x: xUpper, left: 174, top: 627, bottom: 766, domain: [0, 1.3], ticks: sdBcTicks, labels: sdBcTickLabels, labelX: 163, xLabels: true },
  { data: meanAfter, x: xLower, left: 169, top: 835, bottom: 963.3, domain: [-0.4, 0.4], ticks: meanAfterTicks, labels: meanAfterTickLabels, labelX: 156 },
  { data: sdAfter, x: xLower, left: 170, top: 1029, bottom: 1157, domain: [0.15, 0.45], ticks: sdAfterTicks, labels: sdAfterTickLabels, labelX: 156 }
];

const svg = d3.select("#chart").append("svg")
  .attr("width", W)
  .attr("height", H)
  .style("font-family", "'DejaVu Sans', sans-serif");

svg.append("rect").attr("width", W).attr("height", H).attr("fill", "#fff");

const right = 1880;
const stretch = 1.45;

panels.forEach(function(p, i) {
  const y = d3.scaleLinear().domain(p.domain).range([p.bottom, p.top]);
  const g = svg.append("g").attr("class", "panel");

  g.append("clipPath").attr("id", "clip" + i)
    .append("rect")
    .attr("x", p.left).attr("y", p.top)
    .attr("width", right - p.left).attr("height", p.bottom - p.top);

  // dotted grid
  g.selectAll(".hgrid").data(p.ticks).enter().append("line")
    .attr("x1", p.left).attr("x2", right)
    .attr("y1", function(d) { return y(d); }).attr("y2", function(d) { return y(d); })
    .attr("stroke", "#000").attr("stroke-width", 1.6).attr("stroke-dasharray", "2.5,8");
  g.selectAll(".vgrid").data(xTickYears).enter().append("line")
    .attr("x1", function(d) { return p.x(d); }).attr("x2", function(d) { return p.x(d); })
    .attr("y1", p.top).attr("y2", p.bottom)
    .attr("stroke", "#000").attr("stroke-width", 1.6).attr("stroke-dasharray", "2,5");

  // series
  const line = d3.line()
    .x(function(d) { return p.x(d[0]); })
    .y(function(d) { return y(d[1]); });
  g.append("g").attr("clip-path", "url(#clip" + i + ")")
    .selectAll("path").data(p.data).enter().append("path")
    .attr("d", function(d) { return line(d[1]); })
    .attr("fill", "none")
    .attr("stroke", function(d) { return colors[d[0]]; })
    .attr("stroke-width", 5.5)
    .attr("stroke-linejoin", "round")
    .attr("stroke-linecap", "round");

  // inward ticks
  g.selectAll(".xtb").data(xTickYears).enter().append("line")
    .attr("x1", function(d) { return p.x(d); }).attr("x2", function(d) { return p.x(d); })
    .attr("y1", p.bottom).attr("y2", p.bottom - 10)
    .attr("stroke", "#000").attr("stroke-width", 1.8);
  g.selectAll(".xtt").data(xTickYears).enter().append("line")
    .attr("x1", function(d) { return p.x(d); }).attr("x2", function(d) { return p.x(d); })
    .attr("y1", p.top).attr("y2", p.top + 10)
    .attr("stroke", "#000").attr("stroke-width", 1.8);
  g.selectAll(".ytl").data(p.ticks).enter().append("line")
    .attr("x1", p.left).attr("x2", p.left + 16)
    .attr("y1", function(d) { return y(d); }).attr("y2", function(d) { return y(d); })
    .attr("stroke", "#000").attr("stroke-width", 1.8);

  // frame
  g.append("rect")
    .attr("x", p.left).attr("y", p.top)
    .attr("width", right - p.left).attr("height", p.bottom - p.top)
    .attr("fill", "none").attr("stroke", "#111").attr("stroke-width", 2.6);

  // y tick labels (stretched like the source figure)
  g.selectAll(".ylab").data(p.ticks).enter().append("g")
    .attr("transform", function(d) { return "translate(" + p.labelX + "," + y(d) + ") scale(" + stretch + ",1)"; })
    .append("text")
    .attr("text-anchor", "end")
    .attr("dy", "0.36em")
    .attr("font-size", 24)
    .attr("fill", "#111")
    .text(function(d, j) { return p.labels[j]; });

  if (p.xLabels) {
    g.selectAll(".xlab").data(xTickYears).enter().append("g")
      .attr("transform", function(d) { return "translate(" + (p.x(d) + 3) + "," + (p.bottom + 29) + ") scale(" + stretch + ",1)"; })
      .append("text")
      .attr("text-anchor", "middle")
      .attr("font-size", 24)
      .attr("fill", "#111")
      .text(function(d) { return d; });
  }
});

// the lowest label of the first panel is cut off in the source
svg.append("rect").attr("x", 100).attr("y", 191).attr("width", 72).attr("height", 20).attr("fill", "#fff");

// titles, each fitted to its width in the source
titles.forEach(function(t) {
  const g = svg.append("g");
  const text = g.append("text")
    .attr("x", 0).attr("y", 0)
    .style("font-family", "'Liberation Sans', Arial, sans-serif")
    .attr("font-size", 42);
  t.parts.forEach(function(part) {
    const ts = text.append("tspan").text(part[0]);
    if (part[1] === "r") ts.attr("fill", RED);
    else ts.attr("fill", "#000");
    if (part[1] === "s") {
      ts.attr("font-size", 28).attr("dy", -14);
    }
  });
  // undo the superscript shift for the following piece
  text.selectAll("tspan").each(function(d, j, nodes) {
    if (j > 0 && nodes[j - 1].getAttribute("dy") === "-14") d3.select(this).attr("dy", 14);
  });
  const w = text.node().getComputedTextLength();
  const s = (t.x1 - t.x0) / w;
  g.attr("transform", "translate(" + t.x0 + "," + t.y + ") scale(" + s + ",1)");
});

// axis unit
svg.append("text")
  .attr("transform", "translate(37,533) rotate(-90)")
  .attr("text-anchor", "middle")
  .attr("dy", "0.35em")
  .style("font-family", "'Liberation Sans', Arial, sans-serif")
  .attr("font-size", 42)
  .attr("fill", "#111")
  .text("(K)");

// red highlight ellipses around the y axes
const ellipses = [
  [139.5, 115.7, 64.5, 85],
  [132, 305, 66, 77.5],
  [126, 901.7, 81, 85],
  [139, 1090, 66, 77]
];
svg.selectAll(".hl").data(ellipses).enter().append("ellipse")
  .attr("cx", function(d) { return d[0]; })
  .attr("cy", function(d) { return d[1]; })
  .attr("rx", function(d) { return d[2]; })
  .attr("ry", function(d) { return d[3]; })
  .attr("fill", "none")
  .attr("stroke", "#ff2200")
  .attr("stroke-width", 5);

// cut-off blue brackets from the slide above
svg.append("path")
  .attr("d", "M620,-2 Q624,8 633,13")
  .attr("fill", "none").attr("stroke", "#1c4fa8").attr("stroke-width", 6);
svg.append("path")
  .attr("d", "M1015,-2 Q1010,8 1002,14")
  .attr("fill", "none").attr("stroke", "#1c4fa8").attr("stroke-width", 6);
</script>
</body>
</html>
